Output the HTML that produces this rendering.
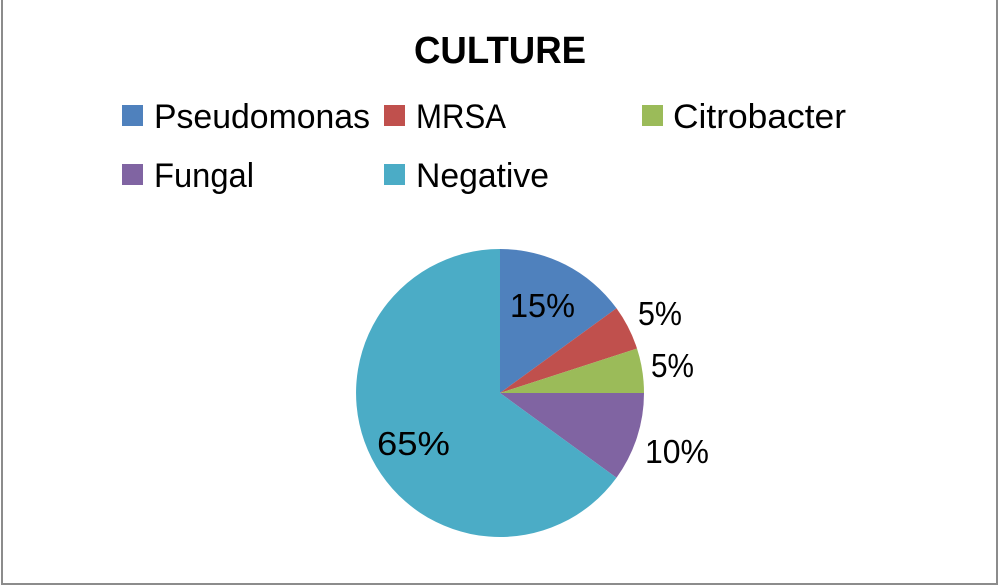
<!DOCTYPE html>
<html><head><style>body{margin:0;background:#fff}svg{display:block}</style></head>
<body>
<svg width="1000" height="586" viewBox="0 0 1000 586" xmlns="http://www.w3.org/2000/svg" font-family="'Liberation Sans', sans-serif">
<rect x="0" y="0" width="1000" height="586" fill="#fff"/>
<rect x="2" y="-2" width="995" height="586" fill="none" stroke="#8c8c8c" stroke-width="2"/>
<text x="500" y="63" text-anchor="middle" font-size="38" font-weight="bold" textLength="172" lengthAdjust="spacingAndGlyphs">CULTURE</text>
<g font-size="34">
<rect x="122" y="105" width="21" height="21" fill="#4f81bd"/>
<text x="154" y="128" textLength="216" lengthAdjust="spacingAndGlyphs">Pseudomonas</text>
<rect x="384" y="105" width="21" height="21" fill="#c0504d"/>
<text x="416" y="128" textLength="90" lengthAdjust="spacingAndGlyphs">MRSA</text>
<rect x="642" y="105" width="21" height="21" fill="#9bbb59"/>
<text x="673" y="128" textLength="173" lengthAdjust="spacingAndGlyphs">Citrobacter</text>
<rect x="122" y="164" width="21" height="21" fill="#8064a2"/>
<text x="154" y="187" textLength="100" lengthAdjust="spacingAndGlyphs">Fungal</text>
<rect x="384" y="164" width="21" height="21" fill="#4bacc6"/>
<text x="416" y="187" textLength="133" lengthAdjust="spacingAndGlyphs">Negative</text>
</g>
<g>
<path d="M500,393 L500,249 A144,144 0 0 1 616.5,308.3 Z" fill="#4f81bd"/>
<path d="M500,393 L616.5,308.3 A144,144 0 0 1 637,348.5 Z" fill="#c0504d"/>
<path d="M500,393 L637,348.5 A144,144 0 0 1 644,393 Z" fill="#9bbb59"/>
<path d="M500,393 L644,393 A144,144 0 0 1 616.5,477.7 Z" fill="#8064a2"/>
<path d="M500,393 L616.5,477.7 A144,144 0 1 1 500,249 Z" fill="#4bacc6"/>
</g>
<g font-size="33">
<text x="510" y="317" textLength="65" lengthAdjust="spacingAndGlyphs">15%</text>
<text x="638" y="325" textLength="44" lengthAdjust="spacingAndGlyphs">5%</text>
<text x="651" y="377" textLength="43" lengthAdjust="spacingAndGlyphs">5%</text>
<text x="645" y="463" textLength="64" lengthAdjust="spacingAndGlyphs">10%</text>
<text x="377" y="455" textLength="73" lengthAdjust="spacingAndGlyphs">65%</text>
</g>
</svg>
</body></html>
